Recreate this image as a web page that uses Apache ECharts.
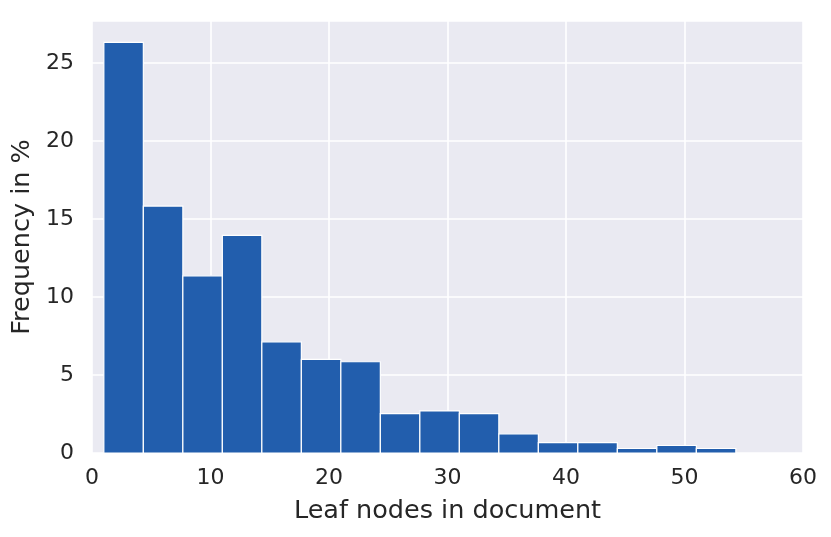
<!DOCTYPE html>
<html>
<head>
<meta charset="utf-8">
<script src="https://cdn.jsdelivr.net/npm/echarts@6/dist/echarts.min.js"></script>
<style>
html,body{margin:0;padding:0;background:#fff;}
#chart{width:831px;height:537px;}
</style>
</head>
<body>
<div id="chart"></div>
<script>
// Histogram bin edges (leaf nodes in document)
const binEdges = [1, 4.333, 7.667, 11, 14.333, 17.667, 21, 24.333, 27.667, 31, 34.333, 37.667, 41, 44.333, 47.667, 51, 54.333];
// Frequency in % per bin
const frequencies = [26.33, 15.83, 11.36, 13.96, 7.13, 6.0, 5.85, 2.53, 2.70, 2.53, 1.23, 0.67, 0.67, 0.29, 0.48, 0.29];
const xTicks = [0, 10, 20, 30, 40, 50, 60];
const yTicks = [0, 5, 10, 15, 20, 25];

const data = frequencies.map((v, i) => [binEdges[i], binEdges[i + 1], v]);

const chart = echarts.init(document.getElementById('chart'), null, {renderer: 'canvas'});
const textColor = '#262626';
const font = 'DejaVu Sans';

chart.setOption({
  animation: false,
  backgroundColor: '#ffffff',
  grid: {
    left: 92, right: 28, top: 21, bottom: 84,
    show: true, backgroundColor: '#EAEAF2', borderWidth: 0
  },
  xAxis: {
    type: 'value', min: xTicks[0], max: xTicks[xTicks.length - 1], interval: 10,
    axisLine: {show: false}, axisTick: {show: false},
    splitLine: {show: true, lineStyle: {color: '#ffffff', width: 1.6}},
    axisLabel: {color: textColor, fontSize: 22, fontFamily: font, margin: 14},
    name: 'Leaf nodes in document', nameLocation: 'middle', nameGap: 45,
    nameTextStyle: {color: textColor, fontSize: 25.5, fontFamily: font}
  },
  yAxis: {
    type: 'value', min: yTicks[0], max: 27.7, interval: 5,
    axisLine: {show: false}, axisTick: {show: false},
    splitLine: {show: true, lineStyle: {color: '#ffffff', width: 1.6}},
    axisLabel: {color: textColor, fontSize: 22, fontFamily: font, margin: 18,
      showMaxLabel: false},
    name: 'Frequency in %', nameLocation: 'middle', nameGap: 56,
    nameTextStyle: {color: textColor, fontSize: 25.5, fontFamily: font}
  },
  series: [{
    type: 'custom',
    data: data,
    encode: {x: [0, 1], y: 2},
    renderItem: function (params, api) {
      const p0 = api.coord([api.value(0), api.value(2)]);
      const p1 = api.coord([api.value(1), 0]);
      return {
        type: 'rect',
        shape: {x: p0[0], y: p0[1], width: p1[0] - p0[0], height: p1[1] - p0[1]},
        style: {fill: '#225EAD', stroke: '#ffffff', lineWidth: 1.2}
      };
    }
  }]
});
</script>
</body>
</html>
